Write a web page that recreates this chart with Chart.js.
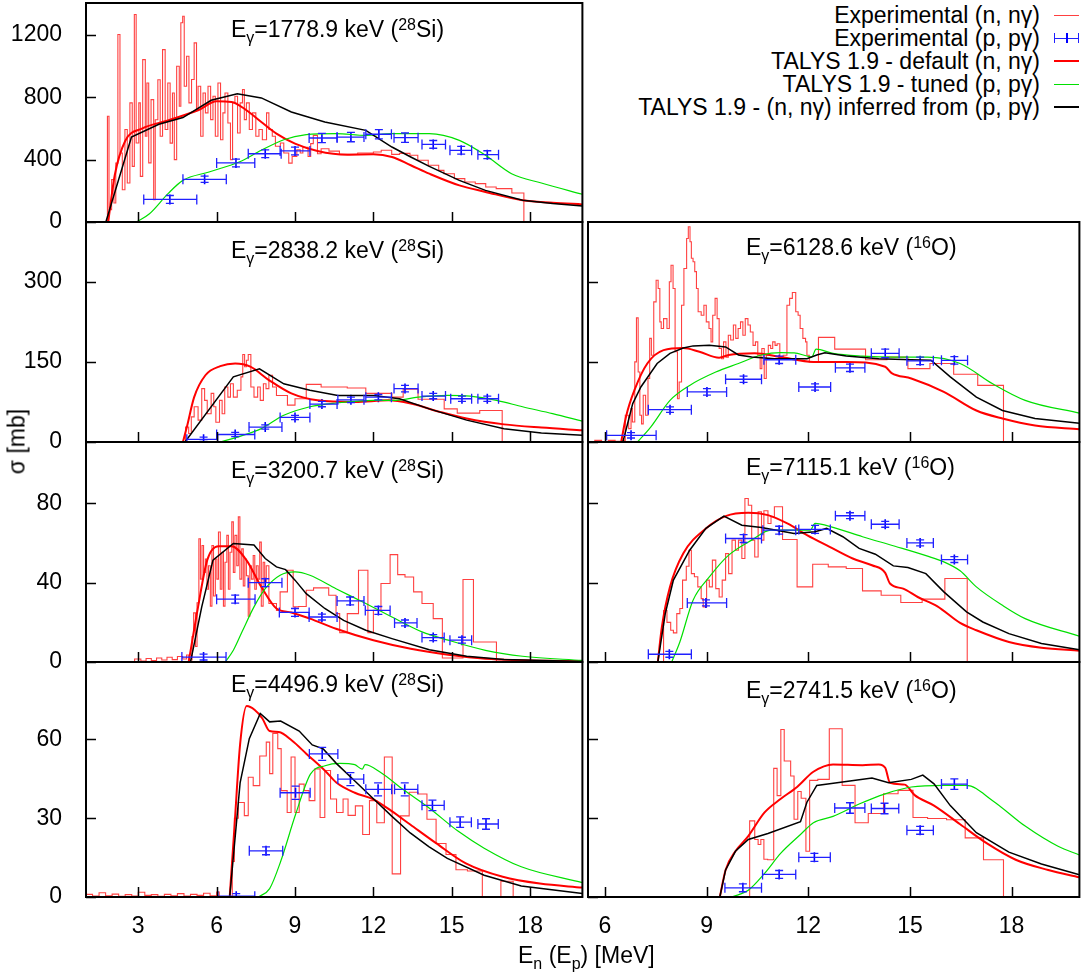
<!DOCTYPE html>
<html>
<head>
<meta charset="utf-8">
<script src="https://cdn.jsdelivr.net/npm/chart.js@4.4.1/dist/chart.umd.min.js"></script>
<style>
  html, body { margin: 0; padding: 0; background: #fff; overflow: hidden; }
  body { width: 1086px; height: 975px; position: relative; font-family: "Liberation Sans", Arial, sans-serif; color: #000; }
  .txt { position: absolute; font-size: 23px; line-height: 23px; white-space: nowrap; }
  .sub { position: relative; top: 6px; font-size: 16px; }
  .sup { position: relative; top: -7px; font-size: 16px; }
  .leg { position: absolute; right: 46px; font-size: 23px; line-height: 23px; white-space: nowrap; text-align: right; }
  .smp { position: absolute; }
</style>
</head>
<body>
<script>
// tick labels
const xTicksLeft = [3, 6, 9, 12, 15, 18];
const xTicksRight = [6, 9, 12, 15, 18];

// ---- Egamma = 1778.9 keV (28Si) ----
const siA_exp = [[1.0,0],[1.76,0],[1.82,678],[1.88,79],[1.98,272],[2.07,122],[2.14,378],[2.22,1203],[2.30,443],[2.39,207],[2.49,593],[2.58,250],[2.68,764],[2.77,357],[2.85,1331],[2.92,507],[3.02,764],[3.08,293],[3.17,1042],[3.27,550],[3.33,892],[3.40,379],[3.49,785],[3.59,143],[3.65,656],[3.75,913],[3.84,550],[3.93,1106],[4.03,593],[4.13,892],[4.22,506],[4.31,828],[4.38,400],[4.47,999],[4.57,743],[4.63,1278],[4.70,1320],[4.76,871],[4.85,1063],[4.94,764],[5.04,914],[5.14,1149],[5.23,721],[5.29,871],[5.39,550],[5.48,828],[5.57,700],[5.67,871],[5.77,657],[5.86,807],[5.95,550],[6.05,892],[6.15,528],[6.24,700],[6.32,828],[6.43,635],[6.53,400],[6.61,764],[6.70,807],[6.80,571],[6.90,764],[6.99,850],[7.06,657],[7.14,764],[7.25,593],[7.37,700],[7.50,550],[7.62,593],[7.75,528],[7.91,700],[8.00,593],[8.13,550],[8.25,486],[8.44,507],[8.57,443],[8.76,378],[8.89,421],[9.07,464],[9.20,443],[9.3,480],[9.5,420],[9.6,503],[9.7,556],[9.86,438],[10.0,470],[10.3,455],[10.7,434],[11.4,443],[12.0,449],[12.3,460],[12.7,434],[13.0,440],[13.4,428],[13.7,396],[14.1,364],[14.5,331],[14.7,310],[15.1,278],[15.5,257],[15.9,246],[16.3,225],[16.7,214],[17.3,186],[17.76,0]];
// [x, y, xlow, xhigh, dy]
const siA_ppg = [[4.21,145,3.21,5.24,25],[5.54,274,4.71,6.37,20],[6.74,379,6.0,7.46,25],[7.86,438,7.21,8.47,25],[9.0,456,8.43,9.57,25],[10.03,539,9.54,10.61,30],[11.14,545,10.61,11.64,30],[12.21,563,11.71,12.69,30],[13.21,541,12.79,13.71,30],[14.29,498,13.86,14.76,25],[15.36,460,14.93,15.76,25],[16.36,432,16.0,16.79,25]];
const siA_def = [[1.85,0],[2.1,300],[2.5,520],[3.14,599],[4.14,652],[5.29,717],[6.0,774],[6.57,770],[7.14,717],[7.71,642],[8.29,567],[9.0,503],[9.86,456],[11.0,432],[12.0,434],[12.71,417],[13.43,364],[14.14,310],[15.29,235],[16.29,193],[17.71,139],[18.86,124],[20,113]];
const siA_tun = [[2.93,0],[3.43,53],[4.14,182],[4.71,267],[5.71,321],[6.86,385],[7.71,460],[8.57,528],[9.43,560],[10.57,567],[11.71,556],[12.71,567],[14.14,567],[15.29,524],[16.29,428],[17.29,310],[18.43,250],[20,178]];
const siA_inf = [[1.76,0],[2.74,545],[3.79,627],[4.71,670],[5.79,781],[6.79,823],[7.71,796],[8.86,706],[10.14,642],[11.71,588],[12.71,481],[13.43,417],[14.14,357],[15.29,267],[16.29,203],[17.71,139],[18.86,118],[20,103]];

// ---- Egamma = 2838.2 keV (28Si) ----
const siB_exp = [[1,0],[4.71,0],[4.81,28],[4.93,16],[5.03,47],[5.14,66],[5.29,41],[5.43,100],[5.54,78],[5.64,53],[5.79,91],[5.89,66],[5.97,37],[6.11,78],[6.21,53],[6.31,103],[6.43,84],[6.53,109],[6.64,84],[6.79,97],[6.93,122],[7.0,164],[7.07,141],[7.14,153],[7.21,164],[7.31,103],[7.43,84],[7.57,103],[7.67,78],[7.79,109],[7.89,100],[8.0,125],[8.14,103],[8.29,87],[8.5,87],[8.71,69],[9.0,81],[9.43,108],[10.0,103],[11.0,101],[11.71,91],[12.71,84],[13.14,99],[13.71,80],[14.71,62],[15.21,54],[16.07,59],[16.93,0]];
const siB_ppg = [[5.5,5,4.86,6.04,4],[6.71,14,6.0,7.46,4],[7.86,28,7.24,8.5,4],[9.0,46,8.43,9.57,4],[10.03,71,9.57,10.61,5],[11.14,79,10.64,11.64,5],[12.19,84,11.71,12.69,5],[13.21,100,12.79,13.71,6],[14.29,86,13.86,14.76,5],[15.39,81,14.96,15.76,5],[16.36,81,16.0,16.79,5]];
const siB_def = [[4.71,0],[4.86,28],[5.14,84],[5.57,125],[6.14,142],[6.71,147],[7.29,141],[8.0,116],[8.86,91],[9.86,78],[11.29,75],[12.57,78],[13.43,72],[14.57,56],[15.57,44],[17.0,33],[18.43,27],[20,22]];
const siB_tun = [[6.14,0],[7.0,12.5],[7.71,25],[8.57,50],[9.57,66],[10.57,73],[12.0,78],[12.86,78],[13.71,84],[14.86,87.5],[15.71,86],[16.71,78],[17.71,66],[18.86,53],[20,39]];
const siB_inf = [[4.79,0],[6.64,122],[7.64,137],[8.57,109],[9.57,97],[10.64,87],[12.0,87],[13.0,81],[14.14,62],[15.57,41],[17.0,25],[18.43,17],[20,12.5]];

// ---- Egamma = 3200.7 keV (28Si) ----
const siC_exp = [[1,0],[2.86,1.5],[3.1,0.5],[3.3,1.8],[3.5,0.7],[3.7,2.0],[3.9,1.0],[4.1,2.4],[4.3,1.2],[4.5,2.8],[4.7,1.5],[4.85,3.5],[4.94,1],[5.06,12.9],[5.12,24.8],[5.19,7.8],[5.25,29.9],[5.32,62.2],[5.38,41.8],[5.44,58.8],[5.5,45.2],[5.57,52],[5.63,36.7],[5.69,48.6],[5.76,28.2],[5.82,58.8],[5.88,33.3],[5.95,52],[6.01,41.8],[6.07,65.6],[6.14,36.7],[6.20,55.4],[6.26,28.2],[6.32,50.3],[6.39,63.9],[6.45,36.7],[6.51,55.4],[6.58,70.7],[6.64,45.2],[6.70,63.9],[6.77,48.6],[6.83,73.2],[6.89,41.8],[6.96,57.1],[7.02,38.4],[7.08,52],[7.14,43.5],[7.21,23.1],[7.27,48.6],[7.33,41.8],[7.40,53.7],[7.46,36.7],[7.52,48.6],[7.59,41.8],[7.65,60.5],[7.71,28.2],[7.78,50.3],[7.84,40.1],[7.90,48.6],[8.0,29.5],[8.29,26],[8.43,35.4],[8.71,46.3],[8.93,27.8],[9.14,28],[9.43,36.2],[9.71,37.4],[10.29,33.7],[10.57,24.4],[10.71,14.8],[11.0,24.4],[11.43,46.3],[11.79,14.8],[12.0,26.1],[12.29,39.6],[12.64,54.2],[12.93,44.1],[13.21,42.9],[13.54,35.4],[13.86,29.5],[14.29,21.9],[14.64,2],[15.43,41.6],[15.83,10.1],[16.71,0]];
const siC_ppg = [[5.5,2.5,4.67,6.36,1.5],[6.71,31.7,6.0,7.47,2],[7.86,40,7.21,8.5,2],[9.0,25,8.4,9.54,2],[10.03,22.7,9.54,10.61,1.5],[11.11,30.8,10.61,11.64,2],[12.19,26,11.69,12.64,2],[13.21,19.7,12.81,13.67,1.5],[14.29,12.3,13.86,14.71,1.5],[15.39,11,14.93,15.76,1.5]];
const siC_def = [[4.93,0],[5.29,27.8],[5.64,51.4],[6.07,58.4],[6.57,58.4],[7.14,51.4],[7.71,37.9],[8.29,27],[8.86,25],[9.57,21.9],[10.57,16.8],[12.0,11],[13.43,6.7],[14.86,3.7],[16.29,1.7],[20,0.3]];
const siC_tun = [[6.33,0],[6.64,5.9],[7.0,16],[7.43,27.8],[7.86,37],[8.43,43.8],[9.0,45.5],[9.57,43.8],[10.57,37],[11.71,29.5],[12.71,22.7],[13.86,15.2],[14.86,11],[16.29,5.9],[17.71,2.9],[20,0.8]];
const siC_inf = [[5.0,0],[5.43,27.8],[5.86,51.4],[6.64,59.8],[7.43,59],[7.86,52.2],[8.29,48],[8.64,46.6],[9.0,41.3],[9.43,34.5],[10.14,27],[10.86,21],[11.71,16],[12.71,11.8],[14.14,6.2],[15.57,2.9],[17.0,1.2],[20,0.3]];

// ---- Egamma = 4496.9 keV (28Si) ----
const siD_exp = [[1.0,1],[1.25,0.4],[1.5,1.6],[1.75,0.5],[2.0,1.1],[2.25,0.3],[2.5,0.9],[2.75,0.4],[3.0,1.8],[3.25,0.6],[3.5,0.9],[3.75,0.3],[4.0,1.0],[4.25,0.5],[4.5,1.3],[4.75,0.4],[5.0,1.0],[5.25,0.6],[5.5,1.4],[5.75,0.5],[6.0,1.9],[6.1,0],[6.6,13.5],[6.68,30],[6.83,36],[7.06,31],[7.21,45.6],[7.4,42.4],[7.65,53.7],[7.9,59],[8.03,47],[8.15,62.3],[8.34,56.5],[8.47,40.5],[8.7,32.2],[8.85,53.3],[9.0,32.2],[9.16,43],[9.35,40.5],[9.54,36.7],[9.76,48.8],[9.96,30.3],[10.14,48.2],[10.36,37.3],[10.59,32.2],[10.84,37.3],[11.03,31.1],[11.31,34.7],[11.59,23.8],[11.85,36.7],[12.13,28.3],[12.42,53.3],[12.72,8.8],[13.04,30.9],[13.37,39.9],[13.71,39.2],[14.05,29.6],[14.4,20.4],[14.78,16.2],[15.16,10.4],[15.6,9.9],[16.17,0],[16.88,6],[17.35,0]];
const siD_ppg = [[6.75,0.3,6.05,7.46,1],[7.89,17.6,7.25,8.53,1.5],[9.02,39.7,8.43,9.58,2.5],[10.04,54.5,9.55,10.64,2.5],[11.12,44.9,10.64,11.63,2.5],[12.18,41,11.71,12.7,2.5],[13.2,41,12.81,13.7,2.5],[14.26,34.9,13.86,14.71,2],[15.32,28.5,14.93,15.75,2],[16.31,27.8,16.0,16.78,2]];
const siD_def = [[6.5,0],[6.68,26.3],[6.9,58.3],[7.15,72.7],[7.46,71.2],[7.75,68],[8.03,63.2],[8.38,62.8],[8.88,59.6],[9.44,54.5],[10.15,48.1],[10.58,43.6],[11.29,39.7],[12.0,37.2],[12.7,32.7],[13.41,27.6],[14.4,20.5],[15.54,12.8],[16.95,7.7],[18.37,5.1],[20,3.6]];
const siD_tun = [[7.6,0],[8.03,3.2],[8.45,13.5],[9.02,31.4],[9.59,46.8],[10.15,50],[10.72,50.9],[11.29,50.4],[11.57,48.7],[11.68,50.4],[12.28,47.4],[13.13,41],[14.12,34],[15.25,25],[16.24,18.6],[17.66,11.5],[20,5.5]];
const siD_inf = [[6.5,0],[6.9,43.6],[7.25,60.3],[7.67,69.9],[8.03,66.7],[8.45,67],[9.16,63.2],[9.66,57.9],[10.08,56.4],[10.58,50.9],[11.29,44.2],[12.0,37.4],[12.7,30.8],[13.41,24.4],[14.12,19.2],[14.83,14.7],[16.24,8.3],[17.66,4.2],[20,1.3]];

// ---- Egamma = 6128.6 keV (16O) ----
const oE_exp = [[5.5,1],[5.7,3],[5.9,1],[6.1,3],[6.3,1.5],[6.5,3],[6.57,0],[6.60,50],[6.70,25],[6.77,62.5],[6.81,37.5],[6.88,150],[6.93,232.5],[6.98,131],[7.03,50],[7.08,34],[7.13,87.5],[7.20,50],[7.27,119],[7.32,194],[7.37,162.5],[7.44,262.5],[7.51,303],[7.57,287.5],[7.62,225],[7.66,212.5],[7.73,231],[7.83,212.5],[7.90,300],[7.95,331],[8.01,287.5],[8.07,169],[8.14,81],[8.19,112.5],[8.26,256],[8.33,325],[8.41,381],[8.46,403],[8.51,375],[8.55,344],[8.60,337.5],[8.65,319],[8.70,287.5],[8.75,244],[8.84,237.5],[8.92,256],[8.99,225],[9.07,212.5],[9.13,187.5],[9.18,237.5],[9.25,269],[9.31,231],[9.37,175],[9.44,156],[9.50,187.5],[9.57,159],[9.64,200],[9.71,191],[9.79,219],[9.86,194],[9.93,212.5],[10.0,225],[10.07,200],[10.14,231],[10.22,219],[10.29,206],[10.37,181],[10.44,187.5],[10.51,162.5],[10.58,137.5],[10.63,175],[10.70,119],[10.76,162.5],[10.82,181],[10.89,175],[10.95,187.5],[11.02,181],[11.08,184],[11.16,159],[11.26,162.5],[11.37,256],[11.45,269],[11.53,280],[11.63,244],[11.70,237.5],[11.76,212.5],[11.84,194],[11.92,187.5],[11.96,162.5],[12.03,150],[12.3,196],[12.78,174],[13.69,154],[14.32,159],[14.94,137.5],[15.59,147],[16.29,127],[17.0,106],[17.76,0]];
const oE_ppg = [[6.77,12.5,6.05,7.51,5],[7.92,60.6,7.28,8.55,5],[9.01,93.8,8.43,9.59,6],[10.09,117.5,9.56,10.62,6],[11.14,154,10.69,11.63,7],[12.2,103,11.72,12.66,6],[13.23,139,12.8,13.67,7],[14.27,166,13.86,14.68,8],[15.3,152,14.91,15.69,7],[16.31,153,15.93,16.7,7]];
const oE_def = [[6.48,0],[6.62,47],[6.87,97],[7.25,147],[7.73,172],[8.31,176],[8.79,169],[9.37,158],[9.65,163],[10.42,166],[11.19,159],[12.15,150],[13.12,150],[14.27,141],[14.46,129],[15.04,119],[16.0,94],[16.96,59],[17.73,44],[18.69,31],[20,24]];
const oE_tun = [[6.96,0],[7.35,28],[7.92,78],[8.5,106],[9.27,131],[9.94,147],[10.62,163],[11.19,167.5],[11.58,167],[11.96,161],[12.1,159],[12.23,174],[12.73,166],[13.6,161],[14.56,159],[15.52,159],[16.48,147],[17.44,109],[18.4,78],[20,54]];
const oE_inf = [[6.53,0],[6.82,72],[7.06,103],[7.54,147],[7.92,166],[8.31,176],[8.6,180],[9.08,181],[9.56,178],[9.94,163],[10.33,159],[11.0,156],[11.96,156],[12.25,163],[12.49,167],[13.12,161],[14.08,156],[15.04,154],[15.62,153],[16.19,122],[16.96,84],[17.73,59],[18.69,44],[20,35]];

// ---- Egamma = 7115.1 keV (16O) ----
const oF_exp = [[5.5,0],[7.65,0],[7.73,26],[7.83,20],[7.94,16],[8.02,14.7],[8.12,24.4],[8.21,27],[8.29,41.3],[8.4,48.3],[8.48,56.4],[8.55,44.6],[8.64,43],[8.74,37.9],[8.84,32],[8.9,27.8],[9.0,41.3],[9.08,37.9],[9.17,51.4],[9.27,37],[9.37,32.8],[9.46,41.3],[9.56,54.7],[9.65,44.6],[9.75,61.5],[9.85,56.4],[9.94,61.5],[10.04,52.2],[10.13,82.5],[10.23,79.1],[10.33,61.5],[10.42,53],[10.52,75.8],[10.62,61.5],[10.69,76.3],[10.81,69.9],[10.9,73.3],[11.0,78.3],[11.24,61.8],[11.67,37.9],[12.13,49.3],[12.59,48],[13.12,47.2],[13.6,35.9],[14.15,33.7],[14.73,30],[15.36,31.7],[16.03,42.1],[16.69,0]];
const oF_ppg = [[7.9,3.9,7.28,8.55,1.5],[8.98,29.8,8.43,9.59,1.5],[10.09,62.3,9.56,10.62,2],[11.14,66.5,10.66,11.63,2],[12.2,66.9,11.72,12.65,2],[13.23,73.8,12.8,13.67,1.5],[14.27,69.5,13.86,14.68,1.5],[15.3,60.1,14.91,15.69,1.5],[16.31,51.7,15.93,16.7,1.5]];
const oF_def = [[7.56,0],[7.68,17.7],[7.92,37.9],[8.31,54.7],[8.98,67.4],[9.56,73.6],[10.23,75.3],[10.81,74.1],[11.38,69.9],[11.96,64],[12.63,58.1],[13.31,52.2],[13.88,48.8],[14.27,45],[14.41,39.6],[14.8,37],[15.23,32.8],[15.81,28.1],[16.48,19.7],[16.96,16],[17.92,10.1],[18.88,7.2],[20,5.7]];
const oF_tun = [[7.97,0],[8.21,10.1],[8.6,31.2],[9.08,42.9],[9.65,53.9],[10.33,61.5],[10.9,66.5],[11.58,66.5],[12.06,66.5],[12.2,69.9],[12.73,67.9],[13.6,63.2],[14.56,58.4],[15.52,53.4],[16.0,50.5],[16.48,46],[16.96,37.9],[17.73,28.6],[18.4,21.9],[20,13]];
const oF_inf = [[7.56,0],[7.78,24.4],[8.02,41.3],[8.5,56.4],[8.98,67.4],[9.51,73.6],[10.04,69],[10.62,67.9],[11.58,64.8],[12.2,65.7],[12.54,67.4],[13.02,63.2],[13.5,57.3],[13.98,54.4],[14.51,48.5],[14.94,47.7],[15.47,44.6],[16.0,35.4],[16.67,25.3],[17.15,20.2],[17.92,14.3],[18.88,9.3],[20,6.2]];

// ---- Egamma = 2741.5 keV (16O) ----
const oG_exp = [[5.5,0],[10.27,0],[10.27,29],[10.42,21.9],[10.52,20],[10.6,21.9],[10.69,14.4],[10.8,14.2],[10.98,49],[11.08,38.6],[11.19,63.8],[11.29,51.8],[11.48,46.1],[11.58,29.6],[11.69,40.2],[11.79,37.6],[11.93,17.4],[12.04,44.4],[12.28,44.8],[12.62,64.1],[13.0,42.5],[13.38,28.3],[13.77,31.8],[14.22,39.3],[14.65,40.6],[15.09,30.3],[15.52,29.9],[16.08,29.4],[16.63,22.5],[17.17,14.2],[17.76,0]];
const oG_ppg = [[10.07,3.5,9.54,10.62,1.5],[11.14,8.6,10.65,11.63,1.5],[12.18,15.1,11.72,12.65,1.5],[13.23,33.9,12.78,13.67,2],[14.25,33.7,13.86,14.67,2],[15.3,25.4,14.91,15.69,1.5],[16.31,43,15.93,16.69,2]];
const oG_def = [[9.39,0],[9.56,10.3],[9.85,17.4],[10.23,23.2],[10.71,32.2],[11.19,37.4],[11.67,41.9],[12.15,47.7],[12.73,50.5],[13.6,50.2],[14.08,50.5],[14.27,49.2],[14.41,43.5],[14.85,42.8],[15.13,38.9],[15.71,34.8],[16.48,27.7],[17.25,20.6],[18.12,14.2],[19.08,10.3],[20,7.5]];
const oG_tun = [[9.75,0],[10.23,2.6],[10.71,9.0],[11.19,16.7],[11.77,23.8],[12.15,28.3],[12.73,30.7],[13.5,35.4],[14.27,39.3],[15.04,41.9],[16.0,42.5],[16.67,42.5],[17.44,36.7],[18.4,27],[19.37,19.3],[20,16]];
const oG_inf = [[9.39,0],[9.56,10.3],[9.85,17.4],[10.23,21.9],[10.81,24.2],[11.77,28.7],[11.96,36.1],[12.25,42.5],[12.63,43.1],[13.12,44],[13.88,45.3],[14.37,43.5],[15.04,44.8],[15.38,46.4],[15.71,43.1],[16.19,34.8],[16.96,24.5],[17.92,17.1],[18.88,12.6],[20,8.5]];

const seriesNames = ['Experimental (n, nγ)', 'Experimental (p, pγ)', 'TALYS 1.9 - default (n, nγ)', 'TALYS 1.9 - tuned (p, pγ)', 'TALYS 1.9 - (n, nγ) inferred from (p, pγ)'];

// panel layout: rows / columns of the multiplot
const ROW_TOP = [3, 222, 442, 662];
const ROW_BOT = [222, 442, 662, 897];
const PAD = 16, XH = 48;
const FONT = { family: '"Liberation Sans", Arial, sans-serif', size: 23 };

const panels = [
  { col: 0, row: 0, ymax: 1405, yticks: [0, 400, 800, 1200], e: '1778.9', a: '28', el: 'Si', ty: 29, exp: siA_exp, ppg: siA_ppg, def: siA_def, tun: siA_tun, inf: siA_inf },
  { col: 0, row: 1, ymax: 412, yticks: [0, 150, 300], e: '2838.2', a: '28', el: 'Si', ty: 250, exp: siB_exp, ppg: siB_ppg, def: siB_def, tun: siB_tun, inf: siB_inf },
  { col: 0, row: 2, ymax: 111, yticks: [0, 40, 80], e: '3200.7', a: '28', el: 'Si', ty: 470, exp: siC_exp, ppg: siC_ppg, def: siC_def, tun: siC_tun, inf: siC_inf },
  { col: 0, row: 3, ymax: 89.5, yticks: [0, 30, 60], e: '4496.9', a: '28', el: 'Si', ty: 684, exp: siD_exp, ppg: siD_ppg, def: siD_def, tun: siD_tun, inf: siD_inf },
  { col: 1, row: 1, ymax: 412, yticks: [0, 150, 300], e: '6128.6', a: '16', el: 'O', ty: 247, exp: oE_exp, ppg: oE_ppg, def: oE_def, tun: oE_tun, inf: oE_inf },
  { col: 1, row: 2, ymax: 111, yticks: [0, 40, 80], e: '7115.1', a: '16', el: 'O', ty: 467, exp: oF_exp, ppg: oF_ppg, def: oF_def, tun: oF_tun, inf: oF_inf },
  { col: 1, row: 3, ymax: 89.5, yticks: [0, 30, 60], e: '2741.5', a: '16', el: 'O', ty: 690, exp: oG_exp, ppg: oG_ppg, def: oG_def, tun: oG_tun, inf: oG_inf }
];

// error bars for the (p, pγ) points, then the gnuplot style frame with inward ticks
const framePlugin = {
  id: 'frame',
  afterDatasetsDraw(chart) {
    const ctx = chart.ctx, a = chart.chartArea;
    const xs = chart.scales.x, ys = chart.scales.y;
    ctx.save();
    ctx.beginPath();
    ctx.rect(a.left, a.top, a.right - a.left, a.bottom - a.top);
    ctx.clip();
    chart.data.datasets.forEach(ds => {
      if (!ds.errorBars) return;
      ctx.strokeStyle = '#2020ff';
      ctx.lineWidth = 1.3;
      ds.data.forEach(p => {
        const px = xs.getPixelForValue(p.x), py = ys.getPixelForValue(p.y);
        const x0 = xs.getPixelForValue(p.xlo), x1 = xs.getPixelForValue(p.xhi);
        const y0 = ys.getPixelForValue(p.y - p.dy), y1 = ys.getPixelForValue(p.y + p.dy);
        ctx.beginPath();
        ctx.moveTo(x0, py); ctx.lineTo(x1, py);
        ctx.moveTo(x0, py - 5); ctx.lineTo(x0, py + 5);
        ctx.moveTo(x1, py - 5); ctx.lineTo(x1, py + 5);
        ctx.moveTo(px - 4, y0); ctx.lineTo(px + 4, y0);
        ctx.moveTo(px - 4, y1); ctx.lineTo(px + 4, y1);
        ctx.stroke();
      });
    });
    ctx.restore();

    ctx.save();
    ctx.strokeStyle = '#000';
    ctx.lineWidth = 1.5;
    ctx.beginPath();
    xs.ticks.forEach(t => {
      const px = Math.round(xs.getPixelForValue(t.value)) + 0.5;
      ctx.moveTo(px, a.bottom); ctx.lineTo(px, a.bottom - 10);
    });
    ys.ticks.forEach(t => {
      const py = Math.round(ys.getPixelForValue(t.value)) + 0.5;
      ctx.moveTo(a.left, py); ctx.lineTo(a.left + 10, py);
    });
    ctx.stroke();
    ctx.lineWidth = 2;
    ctx.strokeRect(a.left, a.top, a.right - a.left, a.bottom - a.top);
    ctx.restore();
  }
};

function pts(arr) { return arr.map(p => ({ x: p[0], y: p[1] })); }

function makeChart(P) {
  const left = P.col === 0;
  const last = P.row === 3;
  const top = ROW_TOP[P.row], bot = ROW_BOT[P.row];
  const cx = left ? 0 : 580, cw = left ? 589 : 506;
  const ch = (bot - top) + PAD + (last ? XH : PAD);
  const cv = document.createElement('canvas');
  cv.width = cw; cv.height = ch;
  cv.style.cssText = `position:absolute;left:${cx}px;top:${top - PAD}px;width:${cw}px;height:${ch}px`;
  document.body.appendChild(cv);

  new Chart(cv, {
    type: 'line',
    data: {
      datasets: [
        { label: seriesNames[0], data: pts(P.exp), borderColor: 'rgba(255,0,0,0.75)', borderWidth: 1.1, stepped: 'before', pointRadius: 0, order: 5 },
        { type: 'scatter', label: seriesNames[1], errorBars: true,
          data: P.ppg.map(p => ({ x: p[0], y: p[1], xlo: p[2], xhi: p[3], dy: p[4] })),
          pointStyle: 'line', pointRotation: 90, pointRadius: 5, borderColor: '#0000ff', backgroundColor: '#0000ff', borderWidth: 1.6, order: 4 },
        { label: seriesNames[2], data: pts(P.def), borderColor: '#ff0000', borderWidth: 2, cubicInterpolationMode: 'monotone', pointRadius: 0, order: 3 },
        { label: seriesNames[3], data: pts(P.tun), borderColor: '#00e000', borderWidth: 1.2, cubicInterpolationMode: 'monotone', pointRadius: 0, order: 2 },
        { label: seriesNames[4], data: pts(P.inf), borderColor: '#000000', borderWidth: 1.5, tension: 0, pointRadius: 0, order: 1 }
      ]
    },
    options: {
      responsive: false,
      animation: false,
      events: [],
      layout: { padding: { top: PAD, bottom: last ? 0 : PAD, left: left ? 0 : 8, right: 1 } },
      plugins: { legend: { display: false }, tooltip: { enabled: false } },
      scales: {
        x: {
          type: 'linear', min: left ? 1 : 5.5, max: 20,
          grid: { display: false }, border: { display: false },
          ticks: { display: last, font: FONT, color: '#000', padding: 8, maxRotation: 0, callback: v => String(v) },
          afterBuildTicks: s => { s.ticks = (left ? xTicksLeft : xTicksRight).map(v => ({ value: v })); },
          afterFit: s => { s.height = last ? XH : 0; s.paddingLeft = 0; s.paddingRight = 0; }
        },
        y: {
          type: 'linear', min: 0, max: P.ymax,
          grid: { display: false }, border: { display: false },
          ticks: { display: left, font: FONT, color: '#000', padding: 16, callback: v => String(v) },
          afterBuildTicks: s => { s.ticks = P.yticks.map(v => ({ value: v })); },
          afterFit: s => { s.width = left ? 86 : 0; s.paddingTop = 0; s.paddingBottom = 0; }
        }
      }
    },
    plugins: [framePlugin]
  });

  // panel label, E_gamma with sub/superscripts
  const t = document.createElement('div');
  t.className = 'txt';
  t.style.left = (left ? 231 : 746) + 'px';
  t.style.top = (P.ty + 8.2 - 19.5) + 'px';
  t.innerHTML = `E<span class="sub">γ</span>=${P.e} keV (<span class="sup">${P.a}</span>${P.el})`;
  document.body.appendChild(t);
}

panels.forEach(makeChart);

// legend in the empty top right cell
const legendY = [15, 38, 61, 84, 107];
seriesNames.forEach((name, i) => {
  const d = document.createElement('div');
  d.className = 'leg';
  d.style.top = (legendY[i] - 11.5) + 'px';
  d.textContent = name;
  document.body.appendChild(d);
});
function sample(x, y, w, h, color) {
  const s = document.createElement('div');
  s.className = 'smp';
  s.style.cssText += `left:${x}px;top:${y}px;width:${w}px;height:${h}px;background:${color}`;
  document.body.appendChild(s);
}
sample(1054, legendY[0] - 0.5, 25, 1.2, 'rgba(255,0,0,0.75)');
sample(1054, legendY[1] - 0.5, 25, 1.3, '#2020ff');
sample(1054, legendY[1] - 5, 1.3, 10, '#2020ff');
sample(1078, legendY[1] - 5, 1.3, 10, '#2020ff');
sample(1066, legendY[1] - 5, 1.6, 10, '#0000ff');
sample(1054, legendY[2] - 1, 25, 2, '#ff0000');
sample(1054, legendY[3] - 0.5, 25, 1.3, '#00e000');
sample(1054, legendY[4] - 0.7, 25, 1.5, '#000000');

// axis titles
const yt = document.createElement('div');
yt.className = 'txt';
yt.style.cssText += 'left:-43px;top:429.5px;width:120px;text-align:center;transform:rotate(-90deg);transform-origin:50% 50%';
yt.textContent = 'σ [mb]';
document.body.appendChild(yt);

const xt = document.createElement('div');
xt.className = 'txt';
xt.style.left = '518px';
xt.style.top = '943.5px';
xt.innerHTML = 'E<span class="sub">n</span> (E<span class="sub">p</span>) [MeV]';
document.body.appendChild(xt);
</script>
</body>
</html>
